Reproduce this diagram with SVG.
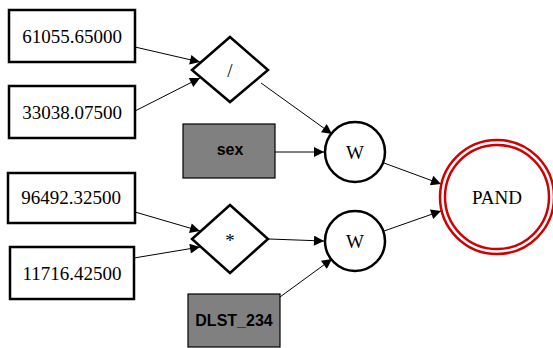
<svg xmlns="http://www.w3.org/2000/svg" width="553" height="348" viewBox="0 0 553 348">
<style>
.box{fill:#fff;stroke:#000;stroke-width:2.5}
.gbox{fill:#808080;stroke:#000;stroke-width:1.2}
.sh{fill:#fff;stroke:#000;stroke-width:2.5}
.t{font-family:"Liberation Serif",serif;font-size:19px;fill:#000;text-anchor:middle;dominant-baseline:central}
.b{font-family:"Liberation Sans",sans-serif;font-weight:bold;font-size:16px;fill:#000;text-anchor:middle;dominant-baseline:central}
.e{stroke:#000;stroke-width:1;fill:none;marker-end:url(#ah)}
</style>
<defs>
<marker id="ah" viewBox="0 0 10 10" refX="10" refY="5" markerWidth="14" markerHeight="10" markerUnits="userSpaceOnUse" orient="auto">
<path d="M0,0 L10,5 L0,10 z" fill="#000"/>
</marker>
</defs>
<g id="connectors">
<line class="e" x1="135" y1="47" x2="200" y2="62"/>
<line class="e" x1="135" y1="111" x2="200" y2="78"/>
<line class="e" x1="261" y1="83" x2="332" y2="134"/>
<line class="e" x1="275" y1="152" x2="324" y2="152"/>
<line class="e" x1="384" y1="163" x2="441" y2="184"/>
<line class="e" x1="135" y1="212" x2="200" y2="231"/>
<line class="e" x1="134" y1="258" x2="200" y2="247"/>
<line class="e" x1="269" y1="239" x2="324" y2="241"/>
<line class="e" x1="280" y1="297" x2="332" y2="259"/>
<line class="e" x1="384" y1="231" x2="441" y2="211"/>
</g>
<g id="n61055">
<rect class="box" x="9" y="10" width="126" height="52"/>
<text class="t" x="72" y="36">61055.65000</text>
</g>
<g id="n33038">
<rect class="box" x="9" y="86" width="126" height="52"/>
<text class="t" x="72" y="112">33038.07500</text>
</g>
<g id="div">
<polygon class="sh" points="230,37 268,70 230,102 192,70"/>
<text class="t" x="230" y="70">/</text>
</g>
<g id="sex">
<rect class="gbox" x="183" y="124" width="92" height="54"/>
<text class="b" x="230" y="149">sex</text>
</g>
<g id="w1">
<circle class="sh" cx="355" cy="152" r="30"/>
<text class="t" x="355" y="152">W</text>
</g>
<g id="n96492">
<rect class="box" x="8" y="173" width="127" height="50"/>
<text class="t" x="71" y="197">96492.32500</text>
</g>
<g id="n11716">
<rect class="box" x="10" y="247" width="124" height="52"/>
<text class="t" x="72" y="273">11716.42500</text>
</g>
<g id="mul">
<polygon class="sh" points="230,205 268,239 230,273 192,239"/>
<text class="t" x="230" y="240">*</text>
</g>
<g id="dlst">
<rect class="gbox" x="188" y="294" width="92" height="53"/>
<text class="b" x="234" y="320">DLST_234</text>
</g>
<g id="w2">
<circle class="sh" cx="355" cy="241" r="30"/>
<text class="t" x="355" y="241">W</text>
</g>
<g id="pand">
<circle cx="497" cy="197" r="57" fill="#fff" stroke="#d00000" stroke-width="2.5"/>
<circle cx="497" cy="197" r="52" fill="none" stroke="#d00000" stroke-width="2.5"/>
<text class="t" x="497" y="197">PAND</text>
</g>
</svg>
